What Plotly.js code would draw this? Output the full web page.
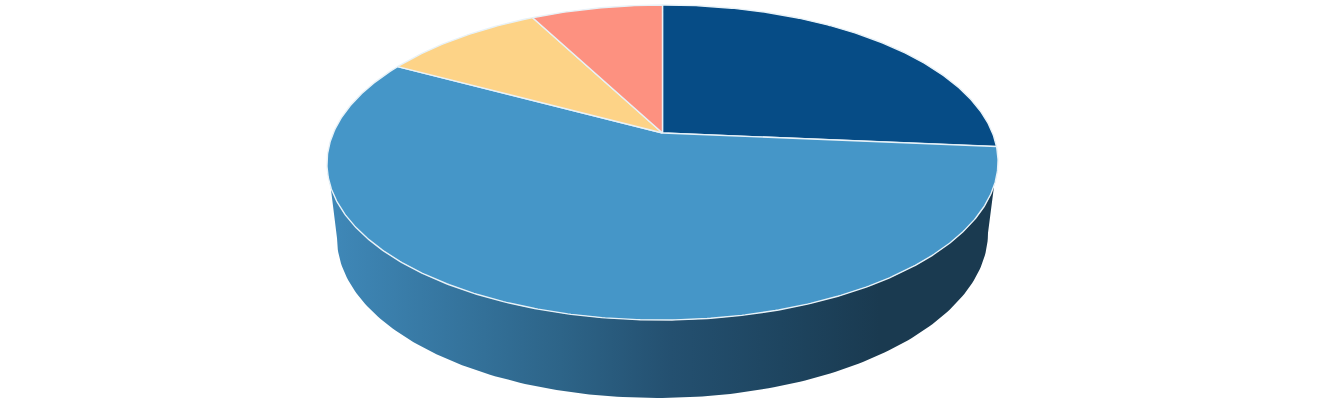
<!DOCTYPE html>
<html>
<head>
<meta charset="utf-8">
<script src="https://cdn.plot.ly/plotly-3.0.1.min.js"></script>
<style>html,body{margin:0;padding:0;background:#fff;overflow:hidden}#chart{width:1324px;height:406px}</style>
</head>
<body>
<div id="chart"></div>
<script>
// Slice shares (percent), clockwise from 12 o'clock
const categories = ['Slice 1', 'Slice 2', 'Slice 3', 'Slice 4'];
const shares = [26.5, 56.5, 9.4, 7.6];
const sliceColors = ['#064c86', '#4596c8', '#fdd387', '#fd9180'];

// Side-wall shading, left to right
const wallStops = [0, 0.42, 0.62, 0.82, 1];
const wallColors = ['#3f88b8', '#2d6488', '#245070', '#1e4560', '#1a3a50'];

// Projection of the tilted disc onto the page
const apexX = 662.5, apexY = 133;
const discRx = 329.6, discA = 152, tilt = 0.1873, topShear = 0.003;
const baseEllipse = {cx: 662.5, cy: 235.5, rx: 325.5, ry: 162.5, shear: 0.008};

function project(deg) {
  const a = deg * Math.PI / 180, u = Math.sin(a), v = Math.cos(a), w = 1 + tilt * v;
  const x = apexX + discRx * u / w;
  return [x, apexY - discA * v / w - topShear * (x - apexX)];
}

const traces = [];

// Wall silhouette: front arc of the base plus the front arc of the top rim
const wx = [], wy = [];
for (let t = 180; t >= 0; t -= 1) {
  const r = t * Math.PI / 180;
  const x = baseEllipse.cx + baseEllipse.rx * Math.cos(r);
  wx.push(x);
  wy.push(baseEllipse.cy + baseEllipse.ry * Math.sin(r) - baseEllipse.shear * (x - baseEllipse.cx));
}
for (let d = 99; d <= 261; d += 1) {
  const p = project(d);
  wx.push(p[0]); wy.push(p[1]);
}
traces.push({
  type: 'scatter', mode: 'lines', x: wx, y: wy, fill: 'toself',
  line: {width: 0}, hoverinfo: 'skip', showlegend: false,
  fillgradient: {
    type: 'horizontal', start: 330, stop: 880,
    colorscale: wallStops.map((s, i) => [s, wallColors[i]])
  }
});

// Top-face slices
let cum = 0;
const total = shares.reduce((p, c) => p + c, 0);
shares.forEach((s, i) => {
  const a0 = cum / total * 360, a1 = (cum + s) / total * 360;
  cum += s;
  const xs = [apexX], ys = [apexY];
  const n = Math.max(8, Math.ceil(a1 - a0) * 2);
  for (let k = 0; k <= n; k++) {
    const p = project(a0 + (a1 - a0) * k / n);
    xs.push(p[0]); ys.push(p[1]);
  }
  xs.push(apexX); ys.push(apexY);
  traces.push({
    type: 'scatter', mode: 'lines', x: xs, y: ys, name: categories[i],
    fill: 'toself', fillcolor: sliceColors[i],
    line: {color: '#e8f2f8', width: 1.4},
    hoverinfo: 'skip', showlegend: false
  });
});

Plotly.newPlot('chart', traces, {
  width: 1324, height: 406,
  margin: {l: 0, r: 0, t: 0, b: 0, pad: 0},
  paper_bgcolor: '#ffffff', plot_bgcolor: '#ffffff',
  showlegend: false,
  xaxis: {range: [0, 1324], visible: false, fixedrange: true},
  yaxis: {range: [406, 0], visible: false, fixedrange: true}
}, {displayModeBar: false, staticPlot: true});
</script>
</body>
</html>
